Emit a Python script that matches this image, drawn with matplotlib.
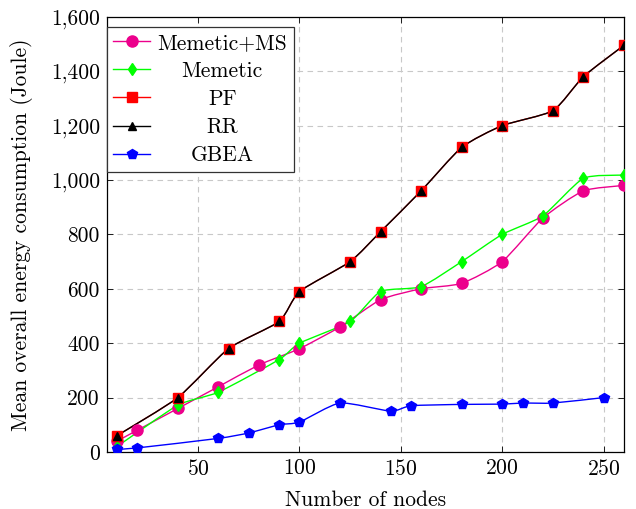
import matplotlib
matplotlib.use("Agg")
import matplotlib.pyplot as plt
import numpy as np
from matplotlib.path import Path
from matplotlib.patches import PathPatch
from matplotlib.lines import Line2D
from matplotlib.ticker import FuncFormatter, FixedLocator
from matplotlib.transforms import Affine2D

plt.rcParams['font.family'] = ['cmr10', 'DejaVu Serif']
plt.rcParams['mathtext.fontset'] = 'cm'
plt.rcParams['axes.unicode_minus'] = False
plt.rcParams['axes.formatter.use_mathtext'] = True

labels = ["Memetic+MS", "Memetic", "PF", "RR", "GBEA"]

ms_x = [10, 20, 40, 60, 80, 100, 120, 140, 160, 180, 200, 220, 240, 260]
ms_y = [40, 80, 160, 240, 320, 380, 460, 560, 600, 620, 700, 860, 960, 980]

mem_x = [10, 40, 60, 90, 100, 125, 140, 160, 180, 200, 220, 240, 260]
mem_y = [20, 172, 220, 340, 400, 480, 590, 608, 700, 800, 868, 1006, 1018]

pf_x = [10, 40, 65, 90, 100, 125, 140, 160, 180, 200, 225, 240, 260]
pf_y = [60, 200, 380, 480, 590, 700, 810, 960, 1120, 1200, 1255, 1380, 1495]

rr_x = pf_x
rr_y = pf_y

gb_x = [10, 20, 60, 75, 90, 100, 120, 145, 155, 180, 200, 210, 225, 250]
gb_y = [10, 15, 50, 70, 100, 110, 180, 150, 170, 175, 176, 180, 180, 200]

x_ticks = [50, 100, 150, 200, 250]
y_ticks = [0, 200, 400, 600, 800, 1000, 1200, 1400, 1600]

colors = ["#EC008C", "#00FF00", "#FF0000", "#000000", "#0000FF"]
markers = ["o", "d", "s", "^", "p"]
msizes = [8, 6, 7.5, 6, 7.5]
lws = [1.0, 1.0, 1.0, 1.0, 1.0]

FS = 15.5

fig = plt.figure(figsize=(6.36, 5.09), dpi=100)
ax = fig.add_axes([0.168, 0.112, 0.813, 0.855])


def smooth_path(xs, ys, f=0.1):
    xs = np.asarray(xs, float)
    ys = np.asarray(ys, float)
    n = len(xs)
    verts = [(xs[0], ys[0])]
    codes = [Path.MOVETO]
    for i in range(n - 1):
        p0 = np.array([xs[max(i - 1, 0)], ys[max(i - 1, 0)]])
        p1 = np.array([xs[i], ys[i]])
        p2 = np.array([xs[i + 1], ys[i + 1]])
        p3 = np.array([xs[min(i + 2, n - 1)], ys[min(i + 2, n - 1)]])
        c1 = p1 + (p2 - p0) * f
        c2 = p2 - (p3 - p1) * f
        verts += [tuple(c1), tuple(c2), tuple(p2)]
        codes += [Path.CURVE4] * 3
    return Path(verts, codes)


series = [(ms_x, ms_y), (mem_x, mem_y), (pf_x, pf_y), (rr_x, rr_y), (gb_x, gb_y)]
handles = []
for k, (xs, ys) in enumerate(series):
    p = smooth_path(xs, ys)
    patch = PathPatch(p, facecolor='none', edgecolor=colors[k], lw=lws[k], zorder=2 + k * 0.1)
    ax.add_patch(patch)
    ax.plot(xs, ys, linestyle='none', marker=markers[k], color=colors[k],
            markersize=msizes[k], zorder=3 + k * 0.1)
    handles.append(Line2D([], [], color=colors[k], marker=markers[k],
                          markersize=msizes[k], lw=lws[k]))

ax.set_xlim(5, 260)
ax.set_ylim(0, 1600)
ax.xaxis.set_major_locator(FixedLocator(x_ticks))
ax.yaxis.set_major_locator(FixedLocator(y_ticks))
ax.yaxis.set_major_formatter(FuncFormatter(lambda v, p: f"{int(v):,}"))
ax.tick_params(direction='in', top=True, right=True, length=4, width=0.6,
               labelsize=FS, pad=5)
for s in ax.spines.values():
    s.set_linewidth(0.9)
ax.grid(True, linestyle=(0, (5, 4)), color='#c8c8c8', linewidth=0.8)
ax.set_axisbelow(True)

ax.set_xlabel("Number of nodes", fontsize=FS, labelpad=8)
ax.set_ylabel("Mean overall energy consumption (Joule)", fontsize=FS, labelpad=13)

leg = ax.legend(handles, labels, loc='upper left', bbox_to_anchor=(0.0, 0.977),
                fontsize=FS, frameon=True, fancybox=False, edgecolor='#333333',
                framealpha=1, handlelength=1.7, handletextpad=0.35,
                labelspacing=0.4, borderpad=0.3, borderaxespad=0.0)
leg.get_frame().set_linewidth(0.9)

fig.canvas.draw()
r = fig.canvas.get_renderer()
texts = leg.get_texts()
widths = [t.get_window_extent(r).width for t in texts]
wmax = max(widths)
for t, w in zip(texts, widths):
    t.set_transform(t.get_transform() + Affine2D().translate((wmax - w) / 2.0, 0))

fig.savefig("out.png", dpi=100)
